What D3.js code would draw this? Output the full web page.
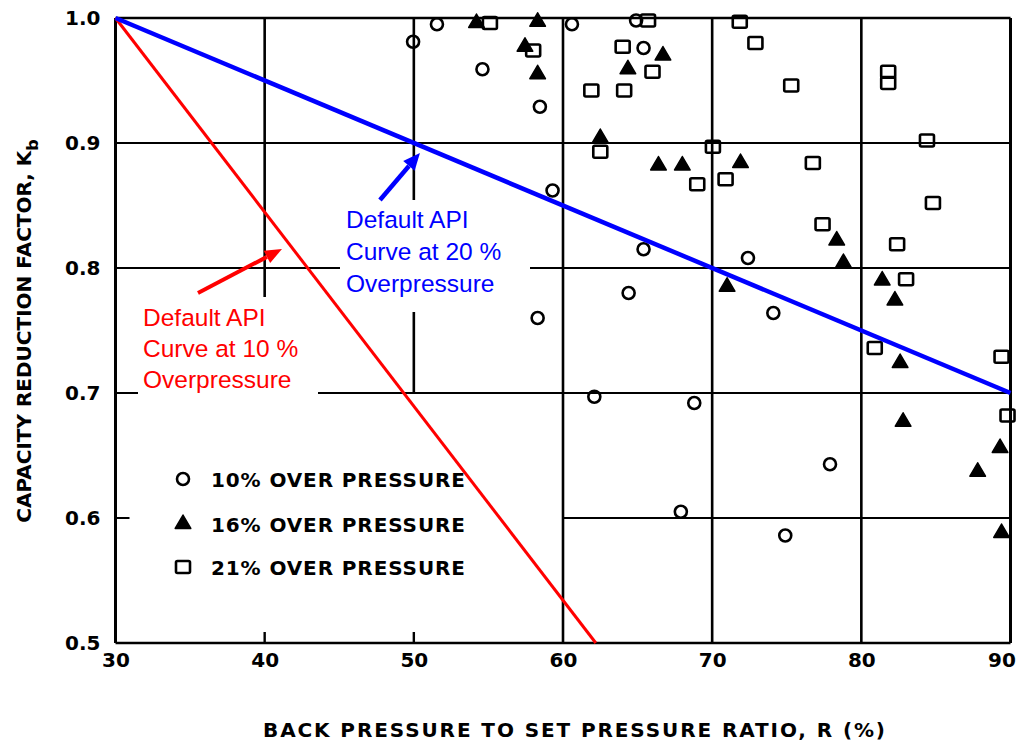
<!DOCTYPE html>
<html>
<head>
<meta charset="utf-8">
<script src="https://cdn.jsdelivr.net/npm/d3@7"></script>
<style>
  body { margin: 0; background: #fff; }
  svg { display: block; }
</style>
</head>
<body>
<svg id="chart" width="1018" height="745"></svg>
<script>
// Axis ticks
const xTicks = [30, 40, 50, 60, 70, 80, 90];
const yTicks = [0.5, 0.6, 0.7, 0.8, 0.9, 1.0];

// Test data: [back pressure ratio R (%), capacity reduction factor Kb]
const op10 = [
  [49.95, 0.981], [51.55, 0.995], [54.6, 0.959], [58.45, 0.929], [60.6, 0.995],
  [59.3, 0.862], [65.4, 0.815], [58.3, 0.760], [64.4, 0.780], [62.1, 0.697],
  [67.9, 0.605], [68.8, 0.692], [72.4, 0.808], [74.1, 0.764], [77.9, 0.643],
  [74.9, 0.586], [65.4, 0.976], [64.9, 0.998]
];
const op16 = [
  [54.2, 0.996], [58.3, 0.997], [57.45, 0.977], [58.3, 0.955], [64.35, 0.959],
  [66.7, 0.970], [62.5, 0.904], [66.4, 0.882], [68.0, 0.882], [71.9, 0.884],
  [71.0, 0.785], [78.35, 0.822], [78.8, 0.804], [81.4, 0.790], [82.25, 0.774],
  [82.6, 0.724], [82.8, 0.677], [89.3, 0.656], [87.8, 0.637], [89.4, 0.588]
];
const op21 = [
  [55.1, 0.996], [58.0, 0.974], [64.0, 0.977], [66.0, 0.957], [61.9, 0.942],
  [64.1, 0.942], [62.5, 0.893], [65.7, 0.998], [71.85, 0.997], [72.9, 0.980],
  [75.3, 0.946], [81.8, 0.957], [81.8, 0.948], [84.4, 0.902], [70.05, 0.897],
  [69.0, 0.867], [70.9, 0.871], [76.75, 0.884], [77.4, 0.835], [84.8, 0.852],
  [82.4, 0.819], [83.0, 0.791], [80.9, 0.736], [89.4, 0.729], [89.8, 0.682]
];

// Default API back-pressure correction curves
const api10 = [[30, 1.0], [62.2, 0.5]];
const api20 = [[30, 1.0], [90, 0.7]];

// Grid segments (data units)
const gridV = [[40, 0.7, 1.0], [50, 0.7, 1.0], [60, 0.5, 1.0], [70, 0.5, 1.0], [80, 0.5, 1.0]];
const gridH = [[0.9, 30, 90], [0.8, 30, 90], [0.7, 30, 90], [0.6, 60, 90]];

const legendLabels = ["10% OVER PRESSURE", "16% OVER PRESSURE", "21% OVER PRESSURE"];

const svg = d3.select("#chart");
svg.append("rect").attr("width", 1018).attr("height", 745).attr("fill", "#fff");

const x = d3.scaleLinear().domain([30, 90]).range([115.5, 1010.5]);
const y = d3.scaleLinear().domain([0.5, 1.0]).range([643, 18]);

const tickFont = "'DejaVu Sans', sans-serif";

// Grid
const grid = svg.append("g").attr("stroke", "#000");
grid.selectAll("line.v").data(gridV).join("line")
  .attr("x1", d => x(d[0])).attr("x2", d => x(d[0]))
  .attr("y1", d => y(d[1])).attr("y2", d => y(d[2]))
  .attr("stroke-width", 2.6);
grid.selectAll("line.h").data(gridH).join("line")
  .attr("y1", d => y(d[0])).attr("y2", d => y(d[0]))
  .attr("x1", d => x(d[1])).attr("x2", d => x(d[2]))
  .attr("stroke-width", 2);

// Short inner ticks
grid.append("line").attr("x1", x(30)).attr("x2", x(30) + 14)
  .attr("y1", y(0.6)).attr("y2", y(0.6)).attr("stroke-width", 2);
[40, 50].forEach(v => {
  grid.append("line").attr("x1", x(v)).attr("x2", x(v))
    .attr("y1", y(0.5)).attr("y2", y(0.5) - 11).attr("stroke-width", 2.4);
});

// Frame
const frame = svg.append("g").attr("stroke", "#000").attr("fill", "none");
frame.append("line").attr("x1", x(30)).attr("x2", x(30)).attr("y1", y(1)).attr("y2", y(0.5)).attr("stroke-width", 3);
frame.append("line").attr("x1", x(90)).attr("x2", x(90)).attr("y1", y(1)).attr("y2", y(0.5)).attr("stroke-width", 3);
frame.append("line").attr("x1", x(30)).attr("x2", x(90)).attr("y1", y(1)).attr("y2", y(1)).attr("stroke-width", 2.4);
frame.append("line").attr("x1", x(30)).attr("x2", x(90)).attr("y1", y(0.5)).attr("y2", y(0.5)).attr("stroke-width", 2.6);

// Axes labels
const gx = svg.append("g").attr("transform", `translate(0,${y(0.5)})`)
  .call(d3.axisBottom(x).tickValues(xTicks).tickFormat(d3.format("d")).tickSize(0).tickPadding(10));
const gy = svg.append("g").attr("transform", `translate(${x(30)},0)`)
  .call(d3.axisLeft(y).tickValues(yTicks).tickFormat(d3.format(".1f")).tickSize(0).tickPadding(15));
[gx, gy].forEach(g => {
  g.select(".domain").remove();
  g.selectAll("text").attr("font-family", tickFont).attr("font-weight", "bold")
    .attr("font-size", 20).attr("fill", "#000");
});
// keep the last x label inside the page edge
gx.selectAll(".tick text").filter(d => d === 90).attr("dx", -9);

// White panels behind the annotation captions
svg.append("rect").attr("x", 340).attr("y", 200).attr("width", 190).attr("height", 112).attr("fill", "#fff");
svg.append("rect").attr("x", 138).attr("y", 297).attr("width", 180).attr("height", 104).attr("fill", "#fff");

// Markers
const mk = svg.append("g");
mk.selectAll("circle.op10").data(op10).join("circle")
  .attr("cx", d => x(d[0])).attr("cy", d => y(d[1])).attr("r", 6)
  .attr("fill", "none").attr("stroke", "#000").attr("stroke-width", 2.6);
const tri = d3.symbol().type(d3.symbolTriangle).size(105);
mk.selectAll("path.op16").data(op16).join("path")
  .attr("d", tri).attr("transform", d => `translate(${x(d[0])},${y(d[1])})`)
  .attr("fill", "#000").attr("stroke", "#000").attr("stroke-width", 1.5).attr("stroke-linejoin", "round");
mk.selectAll("rect.op21").data(op21).join("rect")
  .attr("x", d => x(d[0]) - 7).attr("y", d => y(d[1]) - 6)
  .attr("width", 14).attr("height", 12).attr("rx", 1.5)
  .attr("fill", "none").attr("stroke", "#000").attr("stroke-width", 2.6);

// API curves
const line = d3.line().x(d => x(d[0])).y(d => y(d[1]));
svg.append("path").datum(api10).attr("d", line).attr("fill", "none")
  .attr("stroke", "#ff0000").attr("stroke-width", 3);
svg.append("path").datum(api20).attr("d", line).attr("fill", "none")
  .attr("stroke", "#0000ff").attr("stroke-width", 4.5);

// Arrows pointing at the curves
function arrow(from, to, color, w, headLen, headW) {
  const x0 = x(from[0]), y0 = y(from[1]), x1 = x(to[0]), y1 = y(to[1]);
  const a = Math.atan2(y1 - y0, x1 - x0);
  const bx = x1 - headLen * Math.cos(a), by = y1 - headLen * Math.sin(a);
  svg.append("line").attr("x1", x0).attr("y1", y0).attr("x2", bx).attr("y2", by)
    .attr("stroke", color).attr("stroke-width", w);
  const px = -Math.sin(a) * headW / 2, py = Math.cos(a) * headW / 2;
  svg.append("path")
    .attr("d", `M${x1},${y1}L${bx + px},${by + py}L${bx - px},${by - py}Z`)
    .attr("fill", color);
}
arrow([47.73, 0.8544], [50.41, 0.892], "#0000ff", 4.5, 17, 15);
arrow([35.53, 0.780], [41.16, 0.8152], "#ff0000", 4, 17, 14);

// Captions
const capFont = "'Liberation Sans', Arial, sans-serif";
const blueCap = ["Default API", "Curve at 20 %", "Overpressure"];
const redCap = ["Default API", "Curve at 10 %", "Overpressure"];
svg.append("g").selectAll("text").data(blueCap).join("text")
  .attr("x", 346).attr("y", (d, i) => 228 + i * 32)
  .attr("font-family", capFont).attr("font-size", 24.5).attr("fill", "#0000ff").text(d => d);
svg.append("g").selectAll("text").data(redCap).join("text")
  .attr("x", 143).attr("y", (d, i) => 326 + i * 31)
  .attr("font-family", capFont).attr("font-size", 24.5).attr("fill", "#ff0000").text(d => d);

// Legend
const lg = svg.append("g");
const lgY = [479, 524, 567];
lg.append("circle").attr("cx", 183).attr("cy", lgY[0]).attr("r", 6)
  .attr("fill", "none").attr("stroke", "#000").attr("stroke-width", 2.6);
lg.append("path").attr("d", tri).attr("transform", `translate(183,${lgY[1]})`)
  .attr("fill", "#000").attr("stroke", "#000").attr("stroke-width", 1.5).attr("stroke-linejoin", "round");
lg.append("rect").attr("x", 176).attr("y", lgY[2] - 6).attr("width", 14).attr("height", 12).attr("rx", 1.5)
  .attr("fill", "none").attr("stroke", "#000").attr("stroke-width", 2.6);
lg.selectAll("text").data(legendLabels).join("text")
  .attr("x", 211).attr("y", (d, i) => lgY[i] + 8)
  .attr("font-family", tickFont).attr("font-weight", "bold").attr("font-size", 20)
  .attr("textLength", 254).attr("lengthAdjust", "spacing").text(d => d);

// Axis titles
svg.append("text").attr("x", 574).attr("y", 737).attr("text-anchor", "middle")
  .attr("font-family", tickFont).attr("font-weight", "bold").attr("font-size", 20)
  .attr("textLength", 622).attr("lengthAdjust", "spacing")
  .text("BACK PRESSURE TO SET PRESSURE RATIO, R (%)");

const yt = svg.append("text").attr("transform", "translate(31,331) rotate(-90)")
  .attr("text-anchor", "middle").attr("font-family", tickFont).attr("font-weight", "bold").attr("font-size", 20);
yt.append("tspan").text("CAPACITY REDUCTION FACTOR, K");
yt.append("tspan").attr("dy", 7).attr("font-size", 16).text("b");
</script>
</body>
</html>
